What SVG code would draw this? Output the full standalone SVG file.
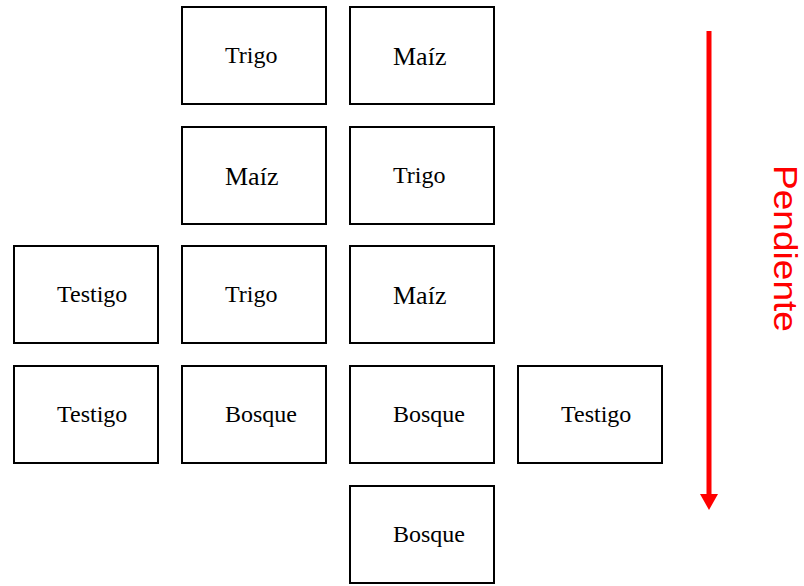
<svg xmlns="http://www.w3.org/2000/svg" width="804" height="586" viewBox="0 0 804 586">
  <style>
    .plot rect { fill: #ffffff; stroke: #000000; stroke-width: 2; }
    .plot text { font-family: "Liberation Serif", "Times New Roman", serif; font-size: 24px; fill: #000000; }
    .plot text.big { font-size: 26px; }
    .slope { font-family: "Liberation Sans", Arial, sans-serif; font-size: 33px; fill: #ff0000; }
  </style>
  <defs>
    <marker id="arrowhead" markerWidth="4" markerHeight="3.6" refX="0" refY="1.8" orient="auto" markerUnits="strokeWidth">
      <path d="M0,0 L3.2,1.8 L0,3.6 Z" fill="#ff0000"/>
    </marker>
  </defs>
  <rect width="804" height="586" fill="#ffffff"/>

  <!-- Row 1 -->
  <g id="r1c2" class="plot"><rect x="182" y="7" width="144" height="97"/><text x="225" y="63">Trigo</text></g>
  <g id="r1c3" class="plot"><rect x="350" y="7" width="144" height="97"/><text class="big" x="393" y="65">Maíz</text></g>
  <!-- Row 2 -->
  <g id="r2c2" class="plot"><rect x="182" y="127" width="144" height="97"/><text class="big" x="225" y="185">Maíz</text></g>
  <g id="r2c3" class="plot"><rect x="350" y="127" width="144" height="97"/><text x="393" y="183">Trigo</text></g>
  <!-- Row 3 -->
  <g id="r3c1" class="plot"><rect x="14" y="246" width="144" height="97"/><text x="57" y="302">Testigo</text></g>
  <g id="r3c2" class="plot"><rect x="182" y="246" width="144" height="97"/><text x="225" y="302">Trigo</text></g>
  <g id="r3c3" class="plot"><rect x="350" y="246" width="144" height="97"/><text class="big" x="393" y="304">Maíz</text></g>
  <!-- Row 4 -->
  <g id="r4c1" class="plot"><rect x="14" y="366" width="144" height="97"/><text x="57" y="422">Testigo</text></g>
  <g id="r4c2" class="plot"><rect x="182" y="366" width="144" height="97"/><text x="225" y="422">Bosque</text></g>
  <g id="r4c3" class="plot"><rect x="350" y="366" width="144" height="97"/><text x="393" y="422">Bosque</text></g>
  <g id="r4c4" class="plot"><rect x="518" y="366" width="144" height="97"/><text x="561" y="422">Testigo</text></g>
  <!-- Row 5 -->
  <g id="r5c3" class="plot"><rect x="350" y="486" width="144" height="97"/><text x="393" y="542">Bosque</text></g>

  <!-- Slope direction -->
  <g id="connectors">
    <line x1="709" y1="31" x2="709" y2="494" stroke="#ff0000" stroke-width="5" marker-end="url(#arrowhead)"/>
  </g>
  <g id="slope-label">
    <text class="slope" transform="translate(774,165) rotate(90)" textLength="167" lengthAdjust="spacingAndGlyphs">Pendiente</text>
  </g>
</svg>
